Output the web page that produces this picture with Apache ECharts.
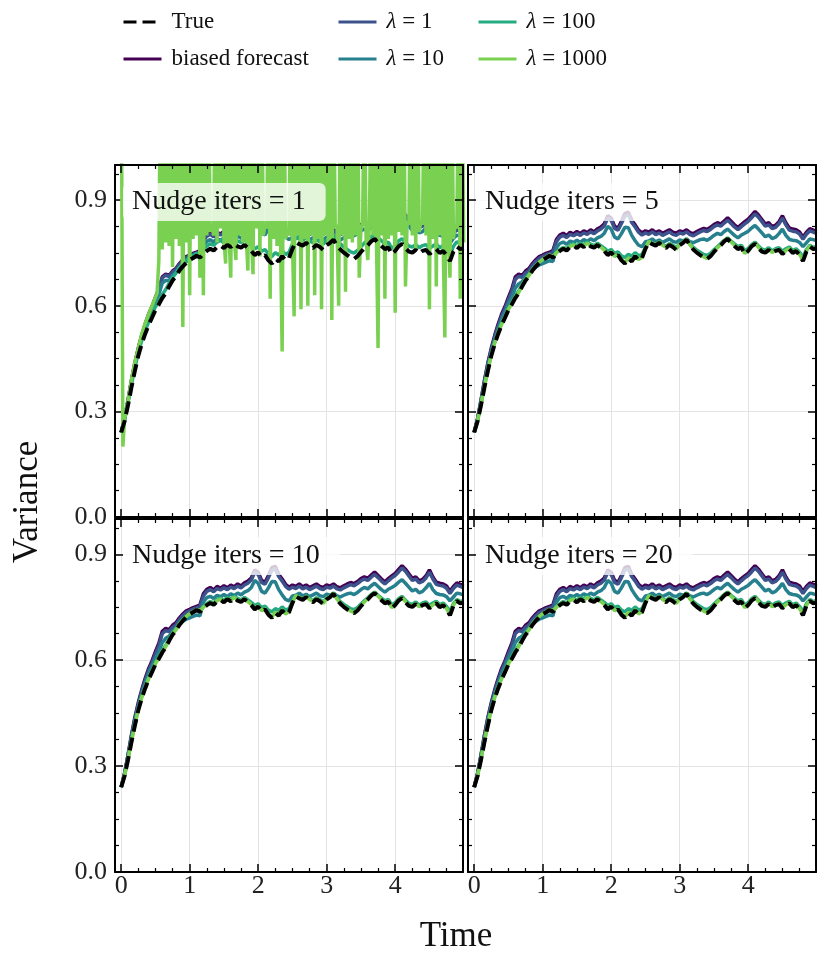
<!DOCTYPE html>
<html>
<head>
<meta charset="utf-8">
<script src="https://cdn.jsdelivr.net/npm/echarts@6/dist/echarts.min.js"></script>
<style>html,body{margin:0;padding:0;background:#fff}#chart{width:819px;height:956px}</style>
</head>
<body>
<div id="chart"></div>
<script>
// ---------------- DATA ----------------
const time = [0,0.05,0.1,0.15,0.2,0.25,0.3,0.35,0.4,0.45,
0.5,0.55,0.6,0.65,0.7,0.75,0.8,0.85,0.9,0.95,
1,1.05,1.1,1.15,1.2,1.25,1.3,1.35,1.4,1.45,
1.5,1.55,1.6,1.65,1.7,1.75,1.8,1.85,1.9,1.95,
2,2.05,2.1,2.15,2.2,2.25,2.3,2.35,2.4,2.45,
2.5,2.55,2.6,2.65,2.7,2.75,2.8,2.85,2.9,2.95,
3,3.05,3.1,3.15,3.2,3.25,3.3,3.35,3.4,3.45,
3.5,3.55,3.6,3.65,3.7,3.75,3.8,3.85,3.9,3.95,
4,4.05,4.1,4.15,4.2,4.25,4.3,4.35,4.4,4.45,
4.5,4.55,4.6,4.65,4.7,4.75,4.8,4.85,4.9,4.95,5];

// finer time grid for the unstable lambda = 1000 run (Nudge iters = 1)
const timeFine = [0,0.025,0.05,0.075,0.1,0.125,0.15,0.175,0.2,0.225,
0.25,0.275,0.3,0.325,0.35,0.375,0.4,0.425,0.45,0.475,
0.5,0.525,0.55,0.575,0.6,0.625,0.65,0.675,0.7,0.725,
0.75,0.775,0.8,0.825,0.85,0.875,0.9,0.925,0.95,0.975,
1,1.025,1.05,1.075,1.1,1.125,1.15,1.175,1.2,1.225,
1.25,1.275,1.3,1.325,1.35,1.375,1.4,1.425,1.45,1.475,
1.5,1.525,1.55,1.575,1.6,1.625,1.65,1.675,1.7,1.725,
1.75,1.775,1.8,1.825,1.85,1.875,1.9,1.925,1.95,1.975,
2,2.025,2.05,2.075,2.1,2.125,2.15,2.175,2.2,2.225,
2.25,2.275,2.3,2.325,2.35,2.375,2.4,2.425,2.45,2.475,
2.5,2.525,2.55,2.575,2.6,2.625,2.65,2.675,2.7,2.725,
2.75,2.775,2.8,2.825,2.85,2.875,2.9,2.925,2.95,2.975,
3,3.025,3.05,3.075,3.1,3.125,3.15,3.175,3.2,3.225,
3.25,3.275,3.3,3.325,3.35,3.375,3.4,3.425,3.45,3.475,
3.5,3.525,3.55,3.575,3.6,3.625,3.65,3.675,3.7,3.725,
3.75,3.775,3.8,3.825,3.85,3.875,3.9,3.925,3.95,3.975,
4,4.025,4.05,4.075,4.1,4.125,4.15,4.175,4.2,4.225,
4.25,4.275,4.3,4.325,4.35,4.375,4.4,4.425,4.45,4.475,
4.5,4.525,4.55,4.575,4.6,4.625,4.65,4.675,4.7,4.725,
4.75,4.775,4.8,4.825,4.85,4.875,4.9,4.925,4.95,4.975,5];

const trueVar = [0.240,0.272,0.318,0.368,0.415,0.458,0.492,0.520,0.545,0.566,
0.588,0.604,0.622,0.636,0.655,0.672,0.684,0.700,0.712,0.722,
0.730,0.736,0.742,0.737,0.748,0.756,0.762,0.757,0.767,0.771,
0.764,0.773,0.767,0.776,0.769,0.765,0.773,0.764,0.756,0.744,
0.752,0.738,0.744,0.729,0.720,0.734,0.726,0.741,0.729,0.736,
0.762,0.781,0.775,0.771,0.779,0.770,0.764,0.773,0.767,0.759,
0.772,0.779,0.788,0.771,0.760,0.751,0.744,0.737,0.733,0.741,
0.753,0.763,0.772,0.783,0.790,0.779,0.770,0.761,0.766,0.747,
0.756,0.769,0.776,0.764,0.754,0.751,0.759,0.749,0.756,0.759,
0.747,0.755,0.761,0.750,0.756,0.744,0.727,0.754,0.768,0.761,0.764];

const biased = [0.240,0.280,0.332,0.388,0.438,0.480,0.516,0.548,0.576,0.598,
0.624,0.648,0.682,0.690,0.686,0.699,0.706,0.720,0.731,0.740,
0.744,0.749,0.752,0.757,0.788,0.801,0.806,0.799,0.809,0.804,
0.811,0.805,0.813,0.808,0.816,0.810,0.819,0.824,0.833,0.856,
0.849,0.826,0.821,0.840,0.862,0.866,0.843,0.830,0.815,0.807,
0.813,0.809,0.816,0.808,0.813,0.806,0.811,0.816,0.809,0.806,
0.813,0.810,0.816,0.808,0.805,0.811,0.816,0.820,0.817,0.823,
0.831,0.836,0.832,0.841,0.850,0.840,0.830,0.822,0.831,0.839,
0.846,0.857,0.868,0.858,0.845,0.832,0.836,0.825,0.829,0.839,
0.856,0.836,0.821,0.818,0.816,0.810,0.795,0.809,0.819,0.815,0.811];

// Nudge iters = 1
const lam1_it1 = [0.240,0.280,0.331,0.387,0.436,0.478,0.514,0.545,0.573,0.595,
0.621,0.645,0.679,0.687,0.683,0.696,0.703,0.717,0.728,0.737,
0.741,0.746,0.749,0.754,0.785,0.798,0.803,0.796,0.806,0.801,
0.808,0.802,0.810,0.805,0.813,0.807,0.816,0.821,0.830,0.853,
0.846,0.823,0.818,0.837,0.859,0.863,0.840,0.827,0.812,0.804,
0.810,0.806,0.813,0.805,0.810,0.803,0.808,0.813,0.806,0.803,
0.810,0.807,0.813,0.805,0.802,0.808,0.813,0.817,0.814,0.820,
0.828,0.833,0.829,0.838,0.847,0.837,0.827,0.819,0.828,0.836,
0.843,0.854,0.865,0.855,0.842,0.829,0.833,0.822,0.826,0.836,
0.853,0.833,0.818,0.815,0.813,0.807,0.792,0.806,0.816,0.812,0.808];
const lam10_it1 = [0.240,0.278,0.328,0.382,0.431,0.472,0.507,0.537,0.564,0.586,
0.610,0.632,0.664,0.672,0.672,0.686,0.694,0.708,0.718,0.726,
0.731,0.736,0.740,0.742,0.770,0.783,0.788,0.781,0.791,0.786,
0.793,0.787,0.795,0.790,0.798,0.792,0.801,0.806,0.815,0.836,
0.829,0.806,0.801,0.820,0.840,0.843,0.822,0.809,0.795,0.788,
0.795,0.791,0.798,0.790,0.795,0.788,0.793,0.798,0.791,0.788,
0.795,0.792,0.798,0.790,0.787,0.793,0.798,0.802,0.799,0.805,
0.813,0.818,0.814,0.823,0.831,0.822,0.812,0.804,0.813,0.820,
0.827,0.837,0.847,0.838,0.826,0.814,0.818,0.807,0.811,0.821,
0.836,0.818,0.803,0.800,0.798,0.792,0.778,0.791,0.801,0.797,0.793];
const lam100_it1 = [0.240,0.276,0.325,0.376,0.424,0.467,0.501,0.529,0.554,0.575,
0.597,0.614,0.632,0.646,0.664,0.681,0.693,0.709,0.720,0.729,
0.737,0.743,0.749,0.747,0.760,0.770,0.776,0.772,0.781,0.786,
0.779,0.788,0.782,0.791,0.784,0.780,0.788,0.780,0.772,0.762,
0.768,0.755,0.760,0.747,0.740,0.751,0.744,0.757,0.746,0.752,
0.776,0.795,0.790,0.786,0.794,0.785,0.779,0.788,0.782,0.775,
0.787,0.794,0.802,0.786,0.776,0.767,0.760,0.753,0.750,0.757,
0.768,0.778,0.787,0.797,0.804,0.794,0.785,0.776,0.781,0.763,
0.771,0.784,0.791,0.779,0.770,0.767,0.774,0.765,0.771,0.774,
0.763,0.770,0.776,0.765,0.771,0.760,0.744,0.769,0.782,0.776,0.779];
// on timeFine
const lam1000_it1 = [1.40,0.20,0.28,0.30,0.33,0.36,0.39,0.415,0.44,0.46,
0.48,0.50,0.52,0.535,0.55,0.563,0.576,0.588,0.60,0.612,
0.624,0.636,0.73,1.30,0.76,1.30,0.78,1.30,0.77,1.30,
0.71,1.30,0.79,1.30,0.77,1.30,0.54,1.30,0.78,1.30,
0.63,1.30,0.79,1.30,0.80,1.30,0.68,1.30,0.63,1.30,
0.80,1.30,0.81,0.83,0.80,1.30,0.78,1.30,0.82,1.30,
0.79,0.72,1.30,0.80,0.68,1.30,0.79,0.73,1.30,0.80,
1.30,0.78,1.30,0.80,0.70,1.30,0.80,0.69,1.30,0.82,
1.30,0.74,1.30,0.80,0.83,0.82,1.30,0.62,1.30,0.79,
1.30,0.77,1.30,0.80,0.47,1.30,0.79,0.82,0.80,1.30,
0.78,0.57,1.30,0.80,1.30,0.59,1.30,0.79,1.30,0.60,
1.30,0.80,1.30,0.63,1.30,0.79,1.30,0.59,1.30,0.80,
1.30,0.78,1.30,0.56,1.30,0.82,0.83,0.60,1.30,0.80,
1.30,0.64,1.30,0.79,1.30,0.78,1.30,0.80,1.30,0.68,
0.82,0.83,1.30,0.79,0.73,0.84,1.30,0.80,1.30,0.81,
0.48,1.30,0.80,1.30,0.62,1.30,0.79,1.30,0.80,1.30,
0.58,1.30,0.81,1.30,0.80,1.30,0.655,0.84,0.83,1.30,
0.80,1.30,0.76,1.30,0.81,0.84,0.83,1.30,0.80,1.30,
0.59,1.30,0.79,1.30,0.655,1.30,0.80,1.30,0.78,0.51,
1.30,0.80,0.68,1.30,0.79,0.83,0.82,1.30,0.62,1.30,0.78];

// Nudge iters = 5, 10, 20 (visually identical)
const lam1_itN = [0.240,0.279,0.330,0.385,0.434,0.475,0.511,0.542,0.570,0.592,
0.617,0.641,0.675,0.684,0.681,0.693,0.700,0.715,0.726,0.735,
0.740,0.745,0.748,0.752,0.782,0.795,0.800,0.794,0.803,0.799,
0.805,0.800,0.807,0.803,0.810,0.805,0.813,0.818,0.827,0.849,
0.843,0.820,0.815,0.834,0.855,0.859,0.837,0.824,0.809,0.801,
0.807,0.803,0.810,0.802,0.807,0.800,0.805,0.810,0.803,0.800,
0.807,0.804,0.810,0.802,0.799,0.805,0.810,0.814,0.811,0.817,
0.825,0.830,0.826,0.835,0.843,0.834,0.824,0.816,0.825,0.833,
0.840,0.850,0.861,0.852,0.839,0.826,0.830,0.819,0.823,0.833,
0.849,0.830,0.815,0.812,0.810,0.804,0.789,0.803,0.813,0.809,0.805];
const lam10_itN = [0.240,0.276,0.326,0.378,0.427,0.469,0.503,0.533,0.560,0.582,
0.605,0.624,0.650,0.662,0.668,0.682,0.690,0.703,0.710,0.716,
0.720,0.724,0.728,0.726,0.765,0.777,0.781,0.775,0.784,0.780,
0.786,0.780,0.788,0.783,0.790,0.785,0.793,0.797,0.806,0.826,
0.818,0.795,0.790,0.805,0.823,0.822,0.800,0.785,0.772,0.768,
0.782,0.784,0.790,0.782,0.787,0.780,0.785,0.790,0.783,0.780,
0.787,0.784,0.790,0.782,0.779,0.784,0.788,0.790,0.786,0.792,
0.800,0.806,0.802,0.811,0.818,0.809,0.800,0.793,0.801,0.806,
0.812,0.821,0.828,0.818,0.807,0.796,0.801,0.791,0.795,0.805,
0.818,0.800,0.789,0.786,0.785,0.780,0.768,0.779,0.790,0.788,0.785];
const lam100_itN = [0.240,0.274,0.322,0.372,0.420,0.463,0.497,0.525,0.550,0.571,
0.593,0.610,0.628,0.642,0.660,0.677,0.689,0.705,0.716,0.724,
0.730,0.735,0.740,0.738,0.752,0.760,0.766,0.763,0.772,0.776,
0.770,0.778,0.773,0.781,0.775,0.771,0.778,0.771,0.764,0.755,
0.760,0.749,0.753,0.742,0.737,0.746,0.741,0.751,0.742,0.746,
0.766,0.783,0.778,0.775,0.782,0.774,0.769,0.777,0.772,0.765,
0.776,0.782,0.790,0.776,0.766,0.758,0.752,0.746,0.743,0.749,
0.759,0.768,0.777,0.786,0.793,0.784,0.776,0.768,0.772,0.756,
0.763,0.774,0.781,0.770,0.761,0.758,0.765,0.756,0.762,0.765,
0.755,0.762,0.767,0.757,0.762,0.752,0.738,0.760,0.772,0.766,0.769];
const lam1000_itN = [0.240,0.273,0.320,0.370,0.417,0.460,0.494,0.522,0.547,0.568,
0.590,0.606,0.624,0.638,0.657,0.674,0.686,0.702,0.714,0.724,
0.732,0.738,0.744,0.739,0.750,0.758,0.764,0.759,0.769,0.773,
0.766,0.775,0.769,0.778,0.771,0.767,0.775,0.766,0.758,0.746,
0.754,0.740,0.746,0.731,0.722,0.736,0.728,0.743,0.731,0.738,
0.764,0.783,0.777,0.773,0.781,0.772,0.766,0.775,0.769,0.761,
0.774,0.781,0.790,0.773,0.762,0.753,0.746,0.739,0.735,0.743,
0.755,0.765,0.774,0.785,0.792,0.781,0.772,0.763,0.768,0.749,
0.758,0.771,0.778,0.766,0.756,0.753,0.761,0.751,0.758,0.761,
0.749,0.757,0.763,0.752,0.758,0.746,0.729,0.756,0.770,0.763,0.766];

const panelLabels = ['Nudge iters = 1', 'Nudge iters = 5', 'Nudge iters = 10', 'Nudge iters = 20'];
const seriesNames = ['biased forecast', 'λ = 1', 'λ = 10', 'λ = 100', 'λ = 1000', 'True'];
const xTickLabels = ['0', '1', '2', '3', '4'];
const yTickLabels = ['0.0', '0.3', '0.6', '0.9'];

// ---------------- LAYOUT / STYLE ----------------
const FONT = '"Liberation Serif", "Times New Roman", serif';
const colors = {
  'biased forecast': '#440154',
  'λ = 1': '#3b528b',
  'λ = 10': '#27808e',
  'λ = 100': '#25ab82',
  'λ = 1000': '#7ad151',
  'True': '#000000'
};
const panelData = [
  [biased, lam1_it1, lam10_it1, lam100_it1, lam1000_it1, trueVar],
  [biased, lam1_itN, lam10_itN, lam100_itN, lam1000_itN, trueVar],
  [biased, lam1_itN, lam10_itN, lam100_itN, lam1000_itN, trueVar],
  [biased, lam1_itN, lam10_itN, lam100_itN, lam1000_itN, trueVar]
];
const layout = [
  {left: 115, top: 165, width: 348, height: 352, xl: false, yl: true},
  {left: 468, top: 165, width: 348, height: 352, xl: false, yl: false},
  {left: 115, top: 519, width: 348, height: 353, xl: true, yl: true},
  {left: 468, top: 519, width: 348, height: 353, xl: true, yl: false}
];
const XMIN = -0.09, XMAX = 4.99;

const grids = [], xAxes = [], yAxes = [], series = [], titles = [];
const tickCommon = {show: true, inside: true, length: 8, lineStyle: {color: '#000', width: 1.5}};
const minorCommon = {show: true, splitNumber: 4, length: 4, lineStyle: {color: '#000', width: 1.2}};
const lineCommon = {show: true, onZero: false, lineStyle: {color: '#000', width: 2}};

layout.forEach((L, gi) => {
  grids.push({left: L.left, top: L.top, width: L.width, height: L.height, containLabel: false});
  const xBase = {type: 'value', gridIndex: gi, min: XMIN, max: XMAX, splitNumber: 5,
    axisLine: lineCommon, axisTick: tickCommon, minorTick: minorCommon};
  xAxes.push(Object.assign({}, xBase, {position: 'bottom',
    splitLine: {show: true, lineStyle: {color: '#e3e3e3', width: 1}},
    axisLabel: {show: L.xl, showMinLabel: false, showMaxLabel: false, margin: 1,
      fontFamily: FONT, fontSize: 26, color: '#222',
      formatter: v => { const k = xTickLabels.indexOf(String(v)); return k >= 0 ? xTickLabels[k] : ''; }}}));
  xAxes.push(Object.assign({}, xBase, {position: 'top', z: 5,
    splitLine: {show: false}, axisLabel: {show: false}}));
  const yBase = {type: 'value', gridIndex: gi, min: 0, max: 1, interval: 0.3,
    axisLine: lineCommon, axisTick: tickCommon, minorTick: minorCommon};
  yAxes.push(Object.assign({}, yBase, {position: 'left',
    splitLine: {show: true, lineStyle: {color: '#e3e3e3', width: 1}},
    axisLabel: {show: L.yl, showMaxLabel: false, margin: 8,
      fontFamily: FONT, fontSize: 26, color: '#222',
      formatter: v => { const s = v.toFixed(1); return yTickLabels.indexOf(s) >= 0 ? s : ''; }}}));
  yAxes.push(Object.assign({}, yBase, {position: 'right', z: 5,
    splitLine: {show: false}, axisLabel: {show: false}}));

  panelData[gi].forEach((arr, si) => {
    const name = seriesNames[si];
    const isTrue = name === 'True';
    const xs = arr.length === timeFine.length ? timeFine : time;
    series.push({
      type: 'line', name: name, xAxisIndex: gi * 2, yAxisIndex: gi * 2,
      data: xs.map((t, i) => [t, arr[i]]),
      symbol: 'none', showSymbol: false, clip: true, animation: false,
      emphasis: {disabled: true},
      itemStyle: {color: colors[name]},
      lineStyle: {color: colors[name], width: isTrue ? 4 : 3.5, type: isTrue ? [13, 6] : 'solid'},
      z: 2
    });
  });

  titles.push({
    text: panelLabels[gi],
    left: L.left + 8, top: L.top + 18,
    padding: [5, 20, 5, 9],
    backgroundColor: 'rgba(255,255,255,0.78)',
    borderRadius: 6,
    z: 20,
    textStyle: {fontFamily: FONT, fontSize: 28, fontWeight: 'normal', color: '#111'}
  });
});

const legendCommon = {
  orient: 'vertical', padding: 0, itemGap: 13, itemWidth: 38, itemHeight: 14,
  lineStyle: {width: 3},
  itemStyle: {opacity: 0},
  selectedMode: false,
  textStyle: {fontFamily: FONT, fontSize: 23, color: '#111', lineHeight: 24, padding: [0, 0, 0, 5],
    rich: {i: {fontFamily: FONT, fontSize: 23, fontStyle: 'italic', lineHeight: 24}}},
  formatter: n => n.charAt(0) === 'λ' ? '{i|λ}' + n.slice(1) : n
};
const legends = [
  Object.assign({}, legendCommon, {left: 122, top: 10, data: ['True', 'biased forecast']}),
  Object.assign({}, legendCommon, {left: 337, top: 10, data: ['λ = 1', 'λ = 10']}),
  Object.assign({}, legendCommon, {left: 477, top: 10, data: ['λ = 100', 'λ = 1000']})
];

const chart = echarts.init(document.getElementById('chart'), null, {renderer: 'canvas'});
chart.setOption({
  backgroundColor: '#ffffff',
  animation: false,
  title: titles,
  legend: legends,
  grid: grids,
  xAxis: xAxes,
  yAxis: yAxes,
  series: series,
  graphic: [
    {type: 'text', x: 28, y: 502, rotation: Math.PI / 2,
      style: {text: 'Variance', font: '35px "Liberation Serif"', fill: '#111', align: 'center', verticalAlign: 'middle'}},
    {type: 'text', x: 456, y: 937,
      style: {text: 'Time', font: '35px "Liberation Serif"', fill: '#111', align: 'center', verticalAlign: 'middle'}}
  ]
});
</script>
</body>
</html>
